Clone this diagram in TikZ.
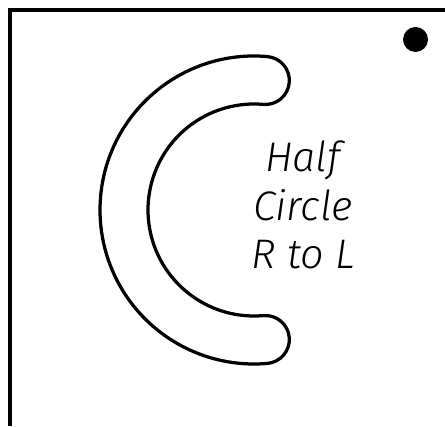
\documentclass[tikz,border=0pt]{standalone}
\usepackage{fontspec}
\newfontfamily\handfont{Fira Sans Light Italic}
\usetikzlibrary{positioning}
\tikzset{outline/.style={line width=0.065cm, black},
  marker/.style={circle, fill=black, inner sep=0pt, minimum size=0.5cm}}

\begin{document}
\begin{tikzpicture}[x=0.02cm, y=0.02cm]
\useasboundingbox (0,0) rectangle (445,426);
% frame, open at right and bottom
\draw[outline] (10,0) -- (10,416) -- (445,416);
\node[marker] (dot) at (415.5,386.5) {};
% the C band
\coordinate (mid) at (254,216);
\draw[outline] (mid) ++(85:154) arc[start angle=85, end angle=275, radius=154]
  arc[start angle=275, end angle=455, radius=24]
  arc[start angle=275, end angle=85, radius=106]
  arc[start angle=265, end angle=445, radius=24] -- cycle;
\node[font={\handfont\fontsize{23.5}{27.5}\selectfont}, align=center]
  (label) at (303,221) {Half\\Circle\\R to L};
\end{tikzpicture}
\end{document}
